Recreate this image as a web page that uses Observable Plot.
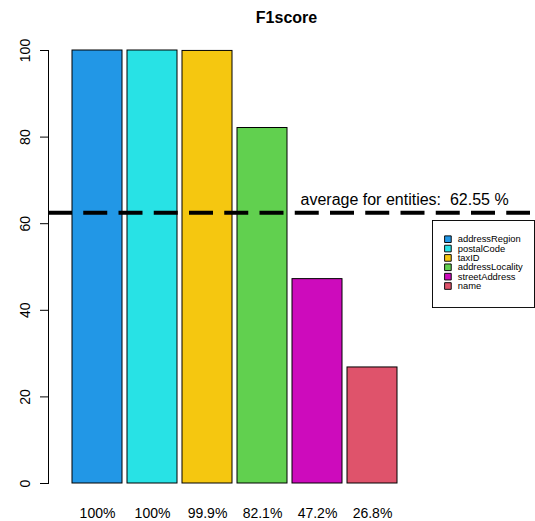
<!DOCTYPE html>
<html>
<head>
<meta charset="utf-8">
<script src="https://cdn.jsdelivr.net/npm/d3@7"></script>
<script src="https://cdn.jsdelivr.net/npm/@observablehq/plot@0.6"></script>
<style>
  html, body { margin: 0; padding: 0; background: #fff; overflow: hidden; }
  #wrap { position: relative; width: 535px; height: 521px; }
  #legend { position: absolute; left: 432px; top: 220px; }
  svg text { white-space: pre; }
</style>
</head>
<body>
<div id="wrap"><div id="chart"></div><div id="legend"></div></div>
<script>
const categories = ["addressRegion", "postalCode", "taxID", "addressLocality", "streetAddress", "name"];
const values = [100, 100, 99.9, 82.1, 47.2, 26.8];
const barLabels = ["100%", "100%", "99.9%", "82.1%", "47.2%", "26.8%"];
const colors = ["#2297E6", "#28E2E5", "#F5C710", "#61D04F", "#CD0BBC", "#DF536B"];
const average = 62.55;
const yTicks = [0, 20, 40, 60, 80, 100];
const title = "F1score";

const data = categories.map((c, i) => ({name: c, value: values[i], label: barLabels[i]}));
const labelOf = new Map(data.map(d => [d.name, d.label]));
const font = "'Liberation Sans', Arial, Helvetica, sans-serif";

const chart = Plot.plot({
  width: 535,
  height: 521,
  marginLeft: 48,
  marginRight: 5,
  marginTop: 50,
  marginBottom: 38,
  style: {fontFamily: font, fontSize: "14px", background: "#fff", color: "#000"},
  x: {type: "band", domain: categories, paddingInner: 0.1 / 1.1, paddingOuter: 1.4115, align: 0.154},
  y: {domain: [0, 100]},
  color: {type: "ordinal", domain: categories, range: colors},
  marks: [
    Plot.barY(data, {x: "name", y: "value", fill: "name", stroke: "#000", strokeWidth: 1}),
    Plot.frame({anchor: "left", stroke: "#000"}),
    Plot.axisY({ticks: yTicks, tickSize: 8, tickFormat: () => "", label: null, stroke: "#000"}),
    Plot.text(yTicks, {y: d => d, text: d => String(d), frameAnchor: "left", dx: -23, rotate: -90, textAnchor: "middle", lineAnchor: "middle", fontSize: 14, fill: "#000"}),
    Plot.axisX({tickSize: 0, tickPadding: 25, tickFormat: d => labelOf.get(d), label: null, fontSize: 14, fill: "#000"}),
    Plot.ruleY([average], {stroke: "#000", strokeWidth: 4, strokeDasharray: "24,11.25"}),
    Plot.text([average], {y: d => d, text: d => `average for entities:  ${d} %`, frameAnchor: "left", dx: 252, dy: -8, textAnchor: "start", lineAnchor: "bottom", fontSize: 16, fill: "#000"}),
    Plot.text([title], {frameAnchor: "top", dx: -3, dy: -28, lineAnchor: "bottom", fontSize: 16, fontWeight: "bold", fill: "#000"})
  ]
});
document.getElementById("chart").appendChild(chart);

const legend = Plot.plot({
  width: 110,
  height: 94,
  marginTop: 0,
  marginLeft: 0,
  marginRight: 1,
  marginBottom: 1,
  style: {fontFamily: font, fontSize: "10px", background: "#fff", color: "#000"},
  y: {type: "point", domain: categories, range: [18, 71], padding: 0, axis: null},
  color: {type: "ordinal", domain: categories, range: colors},
  marks: [
    Plot.frame({stroke: "#000"}),
    Plot.dot(categories, {y: d => d, fill: d => d, stroke: "#000", strokeWidth: 1, symbol: "square", r: 4, frameAnchor: "left", dx: 16.5}),
    Plot.text(categories, {y: d => d, text: d => d, frameAnchor: "left", dx: 27, textAnchor: "start", fontSize: 10, fill: "#000"})
  ]
});
document.getElementById("legend").appendChild(legend);
</script>
</body>
</html>
